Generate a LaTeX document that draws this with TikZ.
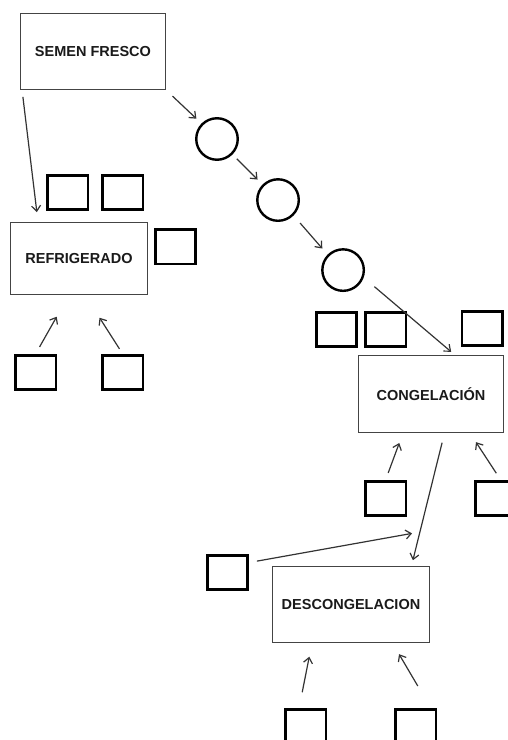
\documentclass[tikz,border=0pt]{standalone}
\usepackage{fontspec}
\setmainfont{Liberation Sans}
\usetikzlibrary{arrows.meta,positioning}
\definecolor{ink}{HTML}{1A1A1A}
\definecolor{boxframe}{HTML}{444444}
\definecolor{arrowgray}{HTML}{333333}
\tikzset{
  stagebox/.style={
    rectangle, draw=boxframe, line width=0.9pt, fill=white,
    font=\fontsize{14.5}{17}\selectfont\bfseries, text=ink,
    align=center, inner sep=0pt
  },
  emptysq/.style={
    rectangle, draw=black, line width=2.6pt,
    minimum width=40.5pt, minimum height=34.5pt, inner sep=0pt
  },
  dropcircle/.style={
    circle, draw=black, line width=2.4pt,
    minimum size=41.5pt, inner sep=0pt
  },
  flowarrow/.style={
    -{Straight Barb[length=5.5pt,width=9pt]}, line width=1.2pt, color=arrowgray
  },
}

\begin{document}
\begin{tikzpicture}[x=1pt,y=1pt]
  \useasboundingbox (0,0) rectangle (508,740);

  % Stages
  \node[stagebox, minimum width=145pt, minimum height=76pt] (fresco) at (93,688.5) {SEMEN FRESCO};
  \node[stagebox, minimum width=137pt, minimum height=72pt] (refrig) at (79,481.5) {REFRIGERADO};
  \node[stagebox, minimum width=145pt, minimum height=77pt] (congel) at (431,346) {CONGELACIÓN};
  \node[stagebox, minimum width=157pt, minimum height=76pt] (descong) at (351,135.5) {DESCONGELACION};

  % Circles
  \node[dropcircle] (c1) at (217,601) {};
  \node[dropcircle, below right=30pt and 30pt of c1] (c2) {};
  \node[dropcircle, below right=39pt and 34pt of c2] (c3) {};

  % Empty squares
  \node[emptysq, above right=11pt and 36pt of refrig.north west] (r1) {};
  \node[emptysq, right=12pt of r1] (r2) {};
  \node[emptysq, below right=6pt and 6pt of refrig.north east] (r3) {};
  \node[emptysq, below right=59pt and 4pt of refrig.south west] (r4) {};
  \node[emptysq, right=44pt of r4] (r5) {};
  \node[emptysq, above left=7pt and 0pt of congel.north west] (k1) {};
  \node[emptysq, right=6pt of k1] (k2) {};
  \node[emptysq, above left=8pt and 0pt of congel.north east] (k3) {};
  \node[emptysq, below right=47pt and 6pt of congel.south west] (k4) {};
  \node[emptysq, right=67pt of k4] (k5) {};
  \node[emptysq, left=23pt of descong.north west, yshift=-6.5pt] (d1) {};
  \node[emptysq, below right=65pt and 12pt of descong.south west] (d2) {};
  \node[emptysq, right=67pt of d2] (d3) {};

  % Arrows
  \draw[flowarrow, shorten <=7pt, shorten >=10pt] ([xshift=2pt]fresco.south west) -- ([xshift=28pt]refrig.north west);
  \draw[flowarrow, shorten <=9pt, shorten >=7pt] (fresco.south east) -- (c1.north west);
  \draw[flowarrow, shorten <=6pt, shorten >=7pt] (c1.south east) -- (c2.north west);
  \draw[flowarrow, shorten <=10pt, shorten >=8pt] (c2.south east) -- (c3.north west);
  \draw[flowarrow, shorten <=14pt, shorten >=5pt] (c3.-20) -- ([xshift=24pt]congel.north);
  \draw[flowarrow, shorten <=8pt, shorten >=25pt] (r4.north) -- ([xshift=-10pt]refrig.south);
  \draw[flowarrow, shorten <=6pt, shorten >=27pt] (r5.north) -- ([xshift=6pt]refrig.south);
  \draw[flowarrow, shorten <=7.5pt, shorten >=10.7pt] (k4.north) -- ([xshift=-28pt]congel.south);
  \draw[flowarrow, shorten <=8pt, shorten >=11pt] ([xshift=5pt]k5.north) -- ([xshift=-34pt]congel.south east);
  \draw[flowarrow, shorten <=10pt, shorten >=6pt] ([xshift=13.5pt]congel.south)
    -- coordinate[pos=0.744] (join) ([xshift=-18.5pt]descong.north east);
  \draw[flowarrow, shorten <=8pt, shorten >=8pt] ([yshift=10pt]d1.east) -- (join);
  \draw[flowarrow, shorten <=16pt, shorten >=14pt] ([xshift=-6.5pt]d2.north) -- ([xshift=-39pt]descong.south);
  \draw[flowarrow, shorten <=25.5pt, shorten >=13pt] ([xshift=15pt]d3.north) -- ([xshift=-37.5pt]descong.south east);
\end{tikzpicture}
\end{document}
